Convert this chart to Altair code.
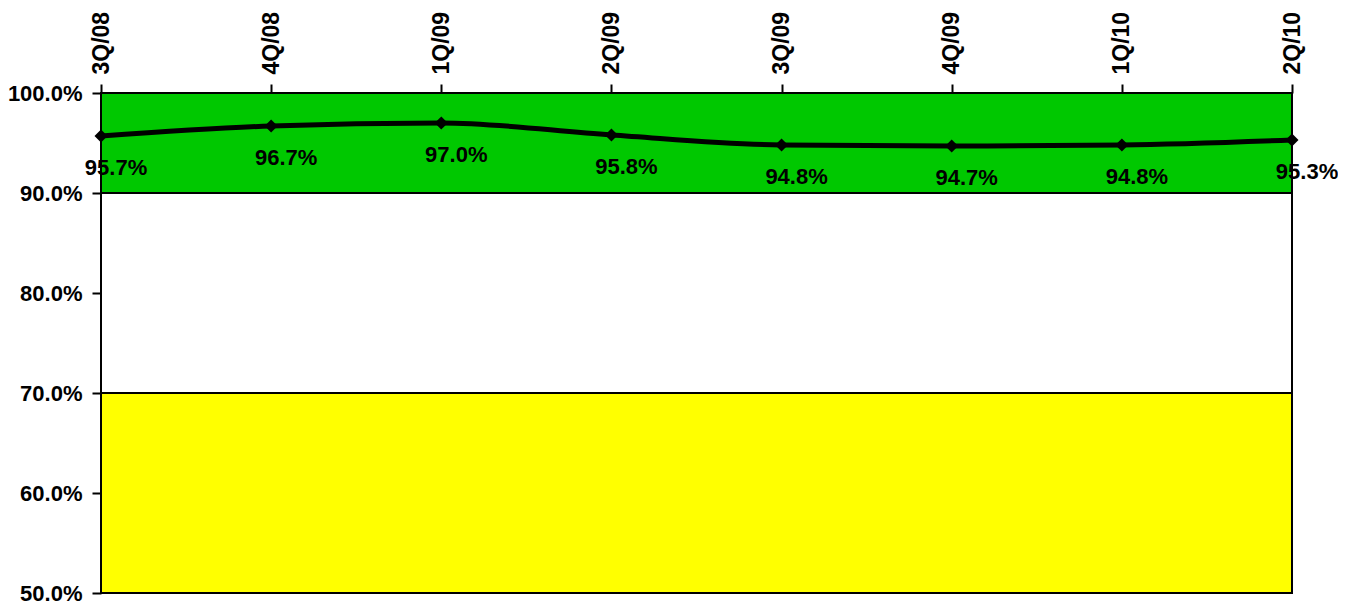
import altair as alt
import pandas as pd

quarters = ["3Q/08", "4Q/08", "1Q/09", "2Q/09", "3Q/09", "4Q/09", "1Q/10", "2Q/10"]
values = [0.957, 0.967, 0.970, 0.958, 0.948, 0.947, 0.948, 0.953]

band_low = [0.9, 0.7, 0.5]
band_high = [1.0, 0.9, 0.7]
band_colors = ["#00C800", "#FFFFFF", "#FFFF00"]

y_ticks = [0.5, 0.6, 0.7, 0.8, 0.9, 1.0]

df = pd.DataFrame({"q": quarters, "v": values})
bands = pd.DataFrame({"lo": band_low, "hi": band_high, "c": band_colors})

FONT = "Liberation Sans"

yscale = alt.Scale(domain=[0.5, 1.0], nice=False, zero=False)
yaxis = alt.Axis(
    values=y_ticks, format=".1%", title=None, grid=False,
    labelFont=FONT, labelFontSize=22, labelFontWeight="bold", labelColor="black",
    tickColor="black", tickSize=9, tickWidth=2, labelPadding=10,
    domainColor="#333333", domainWidth=2,
)
xaxis = alt.Axis(
    orient="top", title=None, grid=False, labelAngle=270, labelAlign="left",
    labelBaseline="middle", labelFont=FONT, labelFontSize=23, labelFontWeight="bold",
    labelColor="black", tickColor="black", tickSize=9, tickWidth=2, labelPadding=10,
    domainColor="black", domainWidth=2,
)

band_layer = alt.Chart(bands).mark_rect(stroke="black", strokeWidth=2).encode(
    x=alt.value(0),
    x2=alt.value("width"),
    y=alt.Y("hi:Q", scale=yscale, axis=yaxis),
    y2="lo:Q",
    color=alt.Color("c:N", scale=None),
)

x_enc = alt.X("q:N", sort=quarters, scale=alt.Scale(type="point", padding=0), axis=xaxis)
y_enc = alt.Y("v:Q", scale=yscale, axis=yaxis)

base = alt.Chart(df).encode(x=x_enc, y=y_enc)

line = base.mark_line(color="black", strokeWidth=5, interpolate="monotone")
pts = base.mark_point(shape="diamond", filled=True, color="black", size=170, opacity=1)
labels = base.mark_text(
    dy=32, dx=15, fontSize=22, font=FONT, fontWeight="bold", color="black"
).encode(text=alt.Text("v:Q", format=".1%"))

chart = alt.layer(band_layer, line, pts, labels).properties(
    width=1191,
    height=500,
    autosize=alt.AutoSizeParams(type="none"),
    padding={"left": 93, "top": 85, "right": 46, "bottom": 13},
).configure_view(stroke="black", strokeWidth=2).configure(background="white")

chart.save("out.html", embed_options={"renderer": "svg", "actions": False})
